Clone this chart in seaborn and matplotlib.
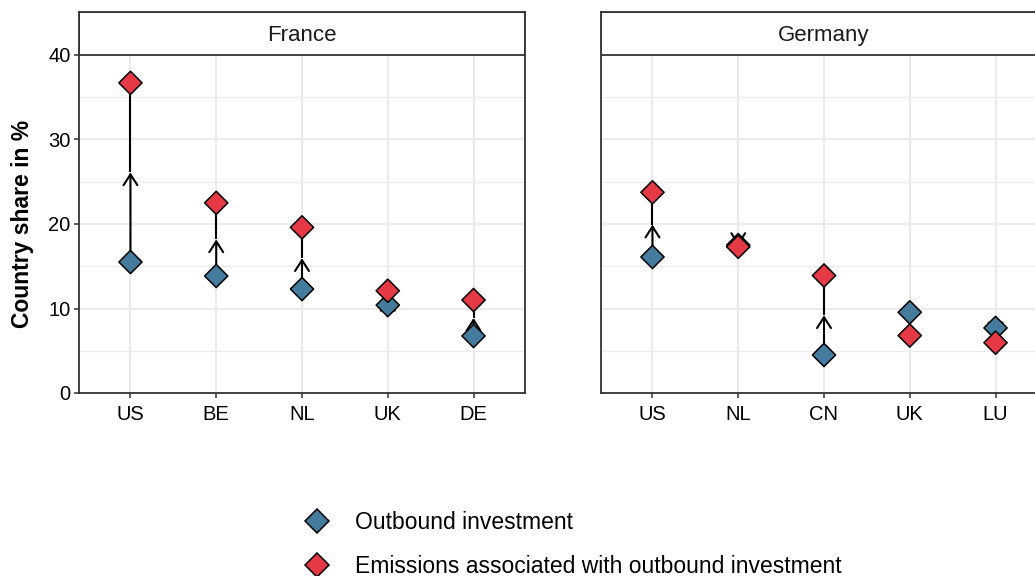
import numpy as np
import pandas as pd
import matplotlib
matplotlib.use("Agg")
import matplotlib.pyplot as plt
from matplotlib.lines import Line2D
from matplotlib.patches import ArrowStyle
import seaborn as sns

# ---- data ----
panels = ["France", "Germany"]
france_countries = ["US", "BE", "NL", "UK", "DE"]
france_investment = [15.5, 13.85, 12.3, 10.4, 6.75]
france_emissions = [36.7, 22.5, 19.6, 12.1, 11.0]
germany_countries = ["US", "NL", "CN", "UK", "LU"]
germany_investment = [16.1, 17.5, 4.5, 9.55, 7.7]
germany_emissions = [23.75, 17.3, 13.9, 6.8, 5.95]
series_labels = ["Outbound investment", "Emissions associated with outbound investment"]
y_ticks = [0, 10, 20, 30, 40]

colors = {series_labels[0]: "#457B9D", series_labels[1]: "#E63946"}

sns.set_style("white")
plt.rcParams["font.family"] = ["Liberation Sans", "DejaVu Sans"]
plt.rcParams["text.color"] = "black"
plt.rcParams["axes.labelcolor"] = "black"

W, H = 1035, 576
fig = plt.figure(figsize=(W / 100, H / 100), dpi=100)

def fx(px):
    return px / W

def fy(py):
    return 1 - py / H

panel_top, panel_bot = 12, 393
ymax = 40 * (panel_bot - panel_top) / (panel_bot - 55)

ax_pos = [
    [fx(79), fy(panel_bot), fx(446), (panel_bot - panel_top) / H],
    [fx(601), fy(panel_bot), fx(446), (panel_bot - panel_top) / H],
]

data_sets = [
    (france_countries, france_investment, france_emissions),
    (germany_countries, germany_investment, germany_emissions),
]

edge = "#333333"
for i, (name, (cats, inv, emi)) in enumerate(zip(panels, data_sets)):
    ax = fig.add_axes(ax_pos[i])
    df = pd.DataFrame({
        "country": list(cats) + list(cats),
        "value": list(inv) + list(emi),
        "series": [series_labels[0]] * len(cats) + [series_labels[1]] * len(cats),
    })
    ax.set_axisbelow(True)
    # arrows/segments
    for j, c in enumerate(cats):
        mid = (inv[j] + emi[j]) / 2
        ax.plot([j, j], [mid, emi[j]], color="black", lw=1.5, zorder=2,
                solid_capstyle="butt")
        ax.annotate("", xy=(j, mid), xytext=(j, inv[j]),
                    arrowprops=dict(arrowstyle=ArrowStyle("->", head_length=0.78, head_width=0.5),
                                    mutation_scale=10, lw=1.5, color="black",
                                    shrinkA=0, shrinkB=0),
                    zorder=2)
    sns.scatterplot(data=df, x="country", y="value", hue="series", palette=colors,
                    marker="D", s=140, edgecolor="black", linewidth=1.1,
                    ax=ax, legend=False, zorder=3)
    ax.set_xlim(-0.6, len(cats) - 0.4)
    ax.set_ylim(0, ymax)
    ax.set_yticks(y_ticks)
    ax.set_yticks([5, 15, 25, 35], minor=True)
    ax.set_xticks(range(len(cats)))
    ax.set_xticklabels(cats)
    ax.grid(True, which="major", color="#EBEBEB", lw=1.5)
    ax.grid(True, which="minor", axis="y", color="#EBEBEB", lw=0.8)
    for s in ax.spines.values():
        s.set_visible(True)
        s.set_color(edge)
        s.set_linewidth(1.3)
    # strip
    ax.axhspan(40, ymax, facecolor="white", edgecolor=edge, linewidth=1.3, zorder=1.5)
    ax.text(0.5, (40 + ymax) / 2 - 0.2, name, transform=ax.get_yaxis_transform(),
            ha="center", va="center", fontsize=16, color="#1A1A1A", zorder=4)
    ax.tick_params(axis="x", which="major", length=3.5, width=1.1, color=edge,
                   labelsize=14.5, pad=4.8, labelcolor="black", bottom=True)
    ax.tick_params(axis="y", which="minor", length=0, left=False)
    if i == 0:
        ax.tick_params(axis="y", which="major", length=3.5, width=1.1, color=edge,
                       labelsize=14.5, pad=2.5, labelcolor="black", left=True)
        ax.set_ylabel("Country share in %", fontsize=16.5, fontweight="bold",
                      labelpad=10, color="black")
        ax.yaxis.label.set_y((y_ticks[-1] / 2) / ymax)
    else:
        ax.tick_params(axis="y", which="major", left=False, labelleft=False)
        ax.set_ylabel("")
    ax.set_xlabel("")

handles = [Line2D([0], [0], marker="D", linestyle="none", markersize=11.8,
                  markerfacecolor=colors[l], markeredgecolor="black", markeredgewidth=1.1)
           for l in series_labels]
leg = fig.legend(handles, series_labels, loc="center left",
                 bbox_to_anchor=(fx(300), fy(544.5)), frameon=False, fontsize=16.5,
                 handlelength=1.5, handletextpad=0.9, labelspacing=0.92, borderpad=0,
                 borderaxespad=0)
for t in leg.get_texts():
    t.set_color("black")

fig.savefig("out.png", dpi=100)
